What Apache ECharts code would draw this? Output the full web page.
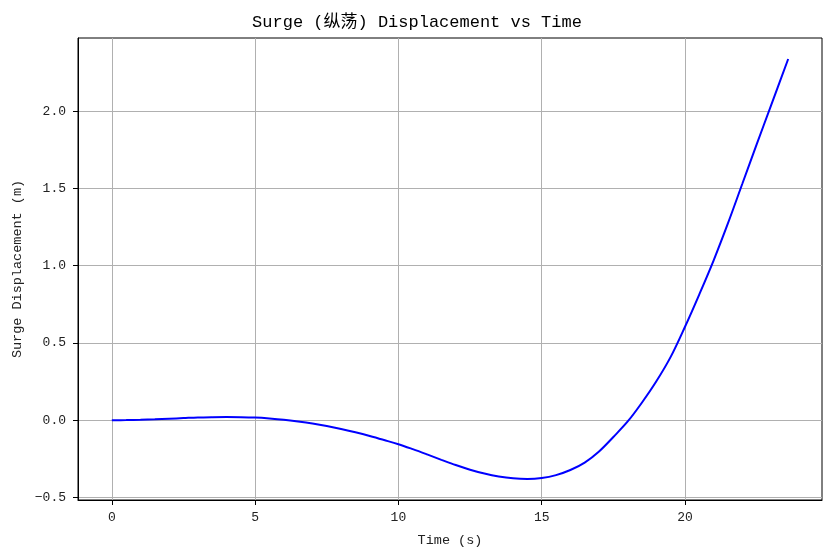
<!DOCTYPE html>
<html>
<head>
<meta charset="utf-8">
<script src="https://cdn.jsdelivr.net/npm/echarts@6/dist/echarts.min.js"></script>
<style>
html,body{margin:0;padding:0;background:#fff;}
#chart{width:834px;height:558px;}
</style>
</head>
<body>
<div id="chart"></div>
<script>
const time = [0,0.5,1,1.5,2,2.5,3,3.5,4,4.5,5,5.5,6,6.5,7,7.5,8,8.5,9,9.5,10,10.5,11,11.5,12,12.5,13,13.5,14,14.5,15,15.5,16,16.5,17,17.5,18,18.5,19,19.5,20,20.5,21,21.5,22,22.5,23,23.6];
const surge = [0.000,0.001,0.003,0.006,0.010,0.014,0.018,0.020,0.021,0.020,0.017,0.011,0.003,-0.008,-0.021,-0.037,-0.056,-0.078,-0.102,-0.128,-0.155,-0.187,-0.221,-0.256,-0.290,-0.320,-0.345,-0.364,-0.376,-0.380,-0.374,-0.355,-0.322,-0.274,-0.202,-0.108,-0.008,0.115,0.252,0.410,0.605,0.815,1.035,1.275,1.530,1.785,2.035,2.337];
const xTicks = [0,5,10,15,20];
const yTicks = [-0.5,0,0.5,1.0,1.5,2.0];
const titleText = 'Surge (纵荡) Displacement vs Time';
const xLabel = 'Time (s)';
const yLabel = 'Surge Displacement (m)';

const FONT = '"Liberation Mono", "Noto Sans CJK SC", monospace';
const chart = echarts.init(document.getElementById('chart'), null, {renderer:'canvas'});
chart.setOption({
  animation:false,
  backgroundColor:'#fff',
  title:{text:titleText,left:'center',top:9,textStyle:{fontFamily:FONT,fontSize:17,fontWeight:'normal',color:'#000'}},
  grid:{left:78,right:12,top:38,bottom:58,show:true,borderColor:'#000',borderWidth:1,backgroundColor:'transparent'},
  xAxis:{type:'value',min:-1.18,max:24.78,
    name:xLabel,nameLocation:'middle',nameGap:34,
    nameTextStyle:{fontFamily:FONT,fontSize:13.5,color:'#222'},
    axisLine:{show:true,onZero:false,lineStyle:{color:'#000',width:1}},
    axisTick:{show:true,inside:false,length:5,lineStyle:{color:'#000',width:1},customValues:xTicks},
    axisLabel:{fontFamily:FONT,fontSize:13,color:'#222',margin:11,customValues:xTicks,formatter:v=>String(v)},
    splitLine:{show:true,lineStyle:{color:'#b0b0b0',width:1}}},
  yAxis:{type:'value',min:-0.516,max:2.473,
    name:yLabel,nameLocation:'middle',nameGap:54,nameRotate:90,
    nameTextStyle:{fontFamily:FONT,fontSize:13.5,color:'#222'},
    axisLine:{show:true,onZero:false,lineStyle:{color:'#000',width:1}},
    axisTick:{show:true,inside:false,length:5,lineStyle:{color:'#000',width:1},customValues:yTicks},
    axisLabel:{fontFamily:FONT,fontSize:13,color:'#222',margin:12,customValues:yTicks,
      formatter:v=>(v<0?'\u2212':'')+Math.abs(v).toFixed(1)},
    splitLine:{show:true,lineStyle:{color:'#b0b0b0',width:1}}},
  series:[{type:'line',data:time.map((t,i)=>[t,surge[i]]),smooth:0.35,showSymbol:false,
    lineStyle:{color:'#0000ff',width:2},itemStyle:{color:'#0000ff'}}]
});
</script>
</body>
</html>
